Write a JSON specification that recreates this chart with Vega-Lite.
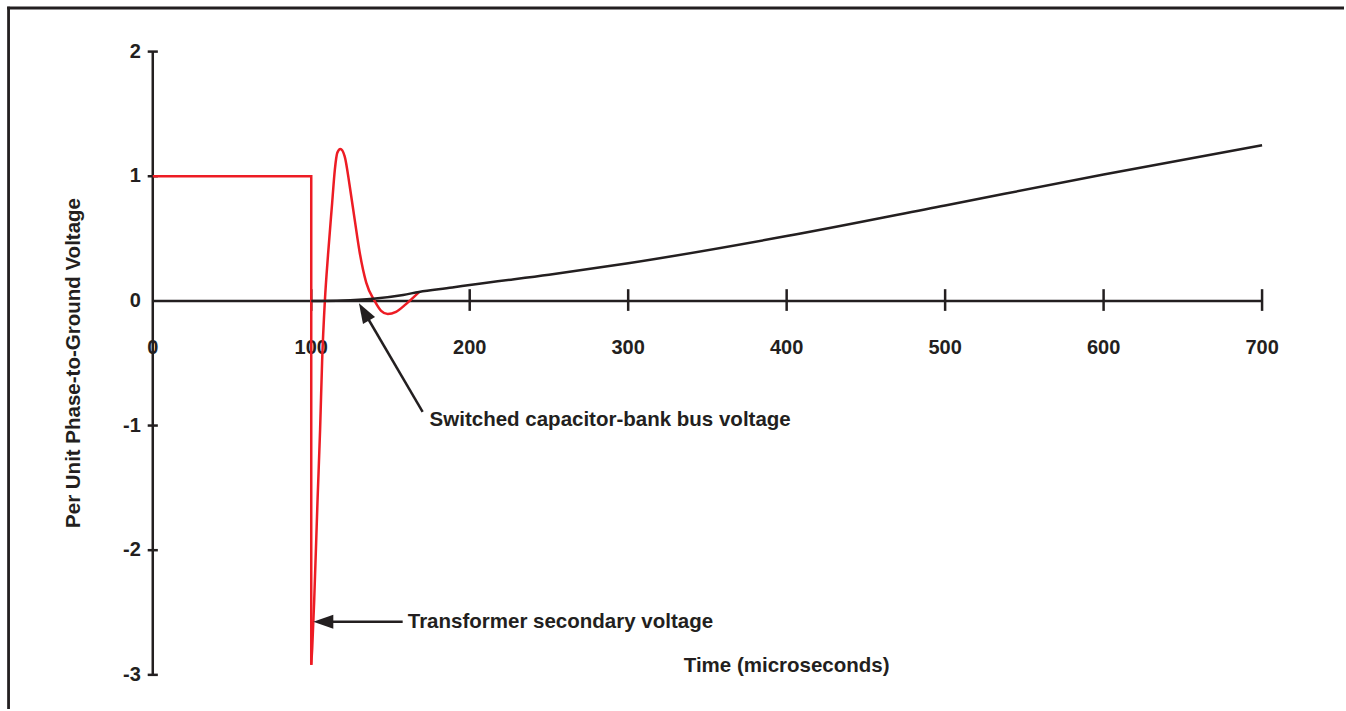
{
  "$schema": "https://vega.github.io/schema/vega-lite/v6.json",
  "width": 1346,
  "height": 711,
  "autosize": {"type": "fit", "contains": "padding"},
  "padding": 0,
  "background": "white",
  "config": {"view": {"stroke": null}, "axis": {"disable": true}},
  "datasets": {
    "bus": [
      {"t": 100, "v": 0.0},
      {"t": 120, "v": 0.004},
      {"t": 130, "v": 0.01},
      {"t": 139, "v": 0.018},
      {"t": 158, "v": 0.048},
      {"t": 168, "v": 0.072},
      {"t": 189, "v": 0.107},
      {"t": 200, "v": 0.128},
      {"t": 250, "v": 0.21},
      {"t": 300, "v": 0.302},
      {"t": 400, "v": 0.52},
      {"t": 500, "v": 0.766},
      {"t": 600, "v": 1.014},
      {"t": 700, "v": 1.248}
    ],
    "transformer": [
      {"t": 0, "v": 1.0, "part": "A"},
      {"t": 100, "v": 1.0, "part": "A"},
      {"t": 100, "v": -2.92, "part": "A"},
      {"t": 100, "v": -2.92, "part": "B"},
      {"t": 100.6, "v": -2.79, "part": "B"},
      {"t": 101.9, "v": -2.39, "part": "B"},
      {"t": 104.0, "v": -1.59, "part": "B"},
      {"t": 105.6, "v": -1.03, "part": "B"},
      {"t": 106.9, "v": -0.47, "part": "B"},
      {"t": 108.6, "v": 0.0, "part": "B"},
      {"t": 110.7, "v": 0.387, "part": "B"},
      {"t": 113.2, "v": 0.787, "part": "B"},
      {"t": 114.9, "v": 1.054, "part": "B"},
      {"t": 116.5, "v": 1.19, "part": "B"},
      {"t": 118.4, "v": 1.219, "part": "B"},
      {"t": 121.1, "v": 1.16, "part": "B"},
      {"t": 124.3, "v": 0.92, "part": "B"},
      {"t": 127.4, "v": 0.654, "part": "B"},
      {"t": 130.6, "v": 0.387, "part": "B"},
      {"t": 134.7, "v": 0.147, "part": "B"},
      {"t": 140.0, "v": 0.0, "part": "B"},
      {"t": 144.1, "v": -0.08, "part": "B"},
      {"t": 148.3, "v": -0.106, "part": "B"},
      {"t": 153.5, "v": -0.088, "part": "B"},
      {"t": 159.8, "v": -0.026, "part": "B"},
      {"t": 168.2, "v": 0.072, "part": "B"}
    ],
    "xticks": [
      {"t": 0, "label": "0"},
      {"t": 100, "label": "100"},
      {"t": 200, "label": "200"},
      {"t": 300, "label": "300"},
      {"t": 400, "label": "400"},
      {"t": 500, "label": "500"},
      {"t": 600, "label": "600"},
      {"t": 700, "label": "700"}
    ],
    "yticks": [
      {"v": 2, "label": "2"},
      {"v": 1, "label": "1"},
      {"v": 0, "label": "0"},
      {"v": -1, "label": "-1"},
      {"v": -2, "label": "-2"},
      {"v": -3, "label": "-3"}
    ]
  },
  "layer": [
    {
      "data": {"values": [{}]},
      "mark": {"type": "rule", "color": "#231f20", "strokeWidth": 2.8},
      "encoding": {
        "y": {"datum": 2.35, "type": "quantitative", "scale": {"domain": [-3.274, 2.414], "nice": false, "zero": false}},
        "x": {"datum": -91.9, "type": "quantitative", "scale": {"domain": [-96.4, 751.7], "nice": false, "zero": false}},
        "x2": {"datum": 751.7}
      }
    },
    {
      "data": {"values": [{}]},
      "mark": {"type": "rule", "color": "#231f20", "strokeWidth": 2.8},
      "encoding": {
        "x": {"datum": -91.0, "type": "quantitative", "scale": {"domain": [-96.4, 751.7], "nice": false, "zero": false}},
        "y": {"datum": 2.36, "type": "quantitative", "scale": {"domain": [-3.274, 2.414], "nice": false, "zero": false}},
        "y2": {"datum": -3.274}
      }
    },
    {
      "data": {"values": [{}]},
      "mark": {"type": "rule", "color": "#231f20", "strokeWidth": 2.5},
      "encoding": {
        "x": {"datum": 0, "type": "quantitative", "scale": {"domain": [-96.4, 751.7], "nice": false, "zero": false}},
        "x2": {"datum": 700},
        "y": {"datum": 0, "type": "quantitative", "scale": {"domain": [-3.274, 2.414], "nice": false, "zero": false}}
      }
    },
    {
      "data": {"values": [{}]},
      "mark": {"type": "rule", "color": "#231f20", "strokeWidth": 2.5},
      "encoding": {
        "x": {"datum": 0, "type": "quantitative", "scale": {"domain": [-96.4, 751.7], "nice": false, "zero": false}},
        "y": {"datum": -3, "type": "quantitative", "scale": {"domain": [-3.274, 2.414], "nice": false, "zero": false}},
        "y2": {"datum": 2}
      }
    },
    {
      "data": {"name": "xticks"},
      "transform": [{"filter": "datum.t > 0"}],
      "mark": {"type": "rule", "color": "#231f20", "strokeWidth": 2.5},
      "encoding": {
        "x": {"field": "t", "type": "quantitative", "scale": {"domain": [-96.4, 751.7], "nice": false, "zero": false}},
        "y": {"datum": -0.08, "type": "quantitative", "scale": {"domain": [-3.274, 2.414], "nice": false, "zero": false}},
        "y2": {"datum": 0.094}
      }
    },
    {
      "data": {"name": "yticks"},
      "transform": [{"filter": "datum.v != 0"}],
      "mark": {"type": "rule", "color": "#231f20", "strokeWidth": 2.5},
      "encoding": {
        "y": {"field": "v", "type": "quantitative", "scale": {"domain": [-3.274, 2.414], "nice": false, "zero": false}},
        "x": {"datum": -3.2, "type": "quantitative", "scale": {"domain": [-96.4, 751.7], "nice": false, "zero": false}},
        "x2": {"datum": 3.2}
      }
    },
    {
      "data": {"name": "xticks"},
      "mark": {"type": "text", "font": "Liberation Sans", "fontWeight": "bold", "fontSize": 20, "color": "#231f20", "align": "center", "baseline": "middle", "dy": 47},
      "encoding": {
        "x": {"field": "t", "type": "quantitative", "scale": {"domain": [-96.4, 751.7], "nice": false, "zero": false}},
        "y": {"datum": 0, "type": "quantitative", "scale": {"domain": [-3.274, 2.414], "nice": false, "zero": false}},
        "text": {"field": "label", "type": "nominal"}
      }
    },
    {
      "data": {"name": "yticks"},
      "mark": {"type": "text", "font": "Liberation Sans", "fontWeight": "bold", "fontSize": 20, "color": "#231f20", "align": "right", "baseline": "middle", "dx": -12},
      "encoding": {
        "y": {"field": "v", "type": "quantitative", "scale": {"domain": [-3.274, 2.414], "nice": false, "zero": false}},
        "x": {"datum": 0, "type": "quantitative", "scale": {"domain": [-96.4, 751.7], "nice": false, "zero": false}},
        "text": {"field": "label", "type": "nominal"}
      }
    },
    {
      "data": {"name": "transformer"},
      "transform": [{"filter": "datum.part == 'A'"}],
      "mark": {"type": "line", "color": "#ed1c24", "strokeWidth": 2.5, "strokeJoin": "miter"},
      "encoding": {
        "x": {"field": "t", "type": "quantitative", "scale": {"domain": [-96.4, 751.7], "nice": false, "zero": false}},
        "y": {"field": "v", "type": "quantitative", "scale": {"domain": [-3.274, 2.414], "nice": false, "zero": false}},
        "order": {"value": null}
      }
    },
    {
      "data": {"name": "transformer"},
      "transform": [{"filter": "datum.part == 'B'"}],
      "mark": {"type": "line", "color": "#ed1c24", "strokeWidth": 2.5, "interpolate": "monotone"},
      "encoding": {
        "x": {"field": "t", "type": "quantitative", "scale": {"domain": [-96.4, 751.7], "nice": false, "zero": false}},
        "y": {"field": "v", "type": "quantitative", "scale": {"domain": [-3.274, 2.414], "nice": false, "zero": false}}
      }
    },
    {
      "data": {"name": "bus"},
      "mark": {"type": "line", "color": "#231f20", "strokeWidth": 2.5, "interpolate": "monotone"},
      "encoding": {
        "x": {"field": "t", "type": "quantitative", "scale": {"domain": [-96.4, 751.7], "nice": false, "zero": false}},
        "y": {"field": "v", "type": "quantitative", "scale": {"domain": [-3.274, 2.414], "nice": false, "zero": false}}
      }
    },
    {
      "data": {"values": [{}]},
      "mark": {"type": "rule", "color": "#231f20", "strokeWidth": 2.5},
      "encoding": {
        "x": {"datum": 170.3, "type": "quantitative", "scale": {"domain": [-96.4, 751.7], "nice": false, "zero": false}},
        "y": {"datum": -0.89, "type": "quantitative", "scale": {"domain": [-3.274, 2.414], "nice": false, "zero": false}},
        "x2": {"datum": 133.3},
        "y2": {"datum": -0.087}
      }
    },
    {
      "data": {"values": [{}]},
      "mark": {"type": "point", "shape": "M0,0L-0.7,2L0.7,2Z", "filled": true, "size": 400, "angle": 329.7, "color": "#231f20", "opacity": 1, "strokeWidth": 0},
      "encoding": {
        "x": {"datum": 130.1, "type": "quantitative", "scale": {"domain": [-96.4, 751.7], "nice": false, "zero": false}},
        "y": {"datum": -0.018, "type": "quantitative", "scale": {"domain": [-3.274, 2.414], "nice": false, "zero": false}}
      }
    },
    {
      "data": {"values": [{}]},
      "mark": {"type": "rule", "color": "#231f20", "strokeWidth": 2.5},
      "encoding": {
        "x": {"datum": 157.7, "type": "quantitative", "scale": {"domain": [-96.4, 751.7], "nice": false, "zero": false}},
        "y": {"datum": -2.574, "type": "quantitative", "scale": {"domain": [-3.274, 2.414], "nice": false, "zero": false}},
        "x2": {"datum": 107.6}
      }
    },
    {
      "data": {"values": [{}]},
      "mark": {"type": "point", "shape": "M0,0L-0.7,2L0.7,2Z", "filled": true, "size": 400, "angle": 270, "color": "#231f20", "opacity": 1, "strokeWidth": 0},
      "encoding": {
        "x": {"datum": 101.3, "type": "quantitative", "scale": {"domain": [-96.4, 751.7], "nice": false, "zero": false}},
        "y": {"datum": -2.574, "type": "quantitative", "scale": {"domain": [-3.274, 2.414], "nice": false, "zero": false}}
      }
    },
    {
      "data": {"values": [{"label": "Switched capacitor-bank bus voltage"}]},
      "mark": {"type": "text", "font": "Liberation Sans", "fontWeight": "bold", "fontSize": 20.5, "color": "#231f20", "align": "left", "baseline": "middle"},
      "encoding": {
        "x": {"datum": 174.7, "type": "quantitative", "scale": {"domain": [-96.4, 751.7], "nice": false, "zero": false}},
        "y": {"datum": -0.954, "type": "quantitative", "scale": {"domain": [-3.274, 2.414], "nice": false, "zero": false}},
        "text": {"field": "label", "type": "nominal"}
      }
    },
    {
      "data": {"values": [{"label": "Transformer secondary voltage"}]},
      "mark": {"type": "text", "font": "Liberation Sans", "fontWeight": "bold", "fontSize": 20.5, "color": "#231f20", "align": "left", "baseline": "middle"},
      "encoding": {
        "x": {"datum": 160.9, "type": "quantitative", "scale": {"domain": [-96.4, 751.7], "nice": false, "zero": false}},
        "y": {"datum": -2.574, "type": "quantitative", "scale": {"domain": [-3.274, 2.414], "nice": false, "zero": false}},
        "text": {"field": "label", "type": "nominal"}
      }
    },
    {
      "data": {"values": [{"label": "Time (microseconds)"}]},
      "mark": {"type": "text", "font": "Liberation Sans", "fontWeight": "bold", "fontSize": 20.5, "color": "#231f20", "align": "center", "baseline": "middle"},
      "encoding": {
        "x": {"datum": 400, "type": "quantitative", "scale": {"domain": [-96.4, 751.7], "nice": false, "zero": false}},
        "y": {"datum": -2.93, "type": "quantitative", "scale": {"domain": [-3.274, 2.414], "nice": false, "zero": false}},
        "text": {"field": "label", "type": "nominal"}
      }
    },
    {
      "data": {"values": [{"label": "Per Unit Phase-to-Ground Voltage"}]},
      "mark": {"type": "text", "font": "Liberation Sans", "fontWeight": "bold", "fontSize": 20.5, "color": "#231f20", "align": "center", "baseline": "middle", "angle": 270},
      "encoding": {
        "x": {"datum": -49.8, "type": "quantitative", "scale": {"domain": [-96.4, 751.7], "nice": false, "zero": false}},
        "y": {"datum": -0.498, "type": "quantitative", "scale": {"domain": [-3.274, 2.414], "nice": false, "zero": false}},
        "text": {"field": "label", "type": "nominal"}
      }
    }
  ]
}
